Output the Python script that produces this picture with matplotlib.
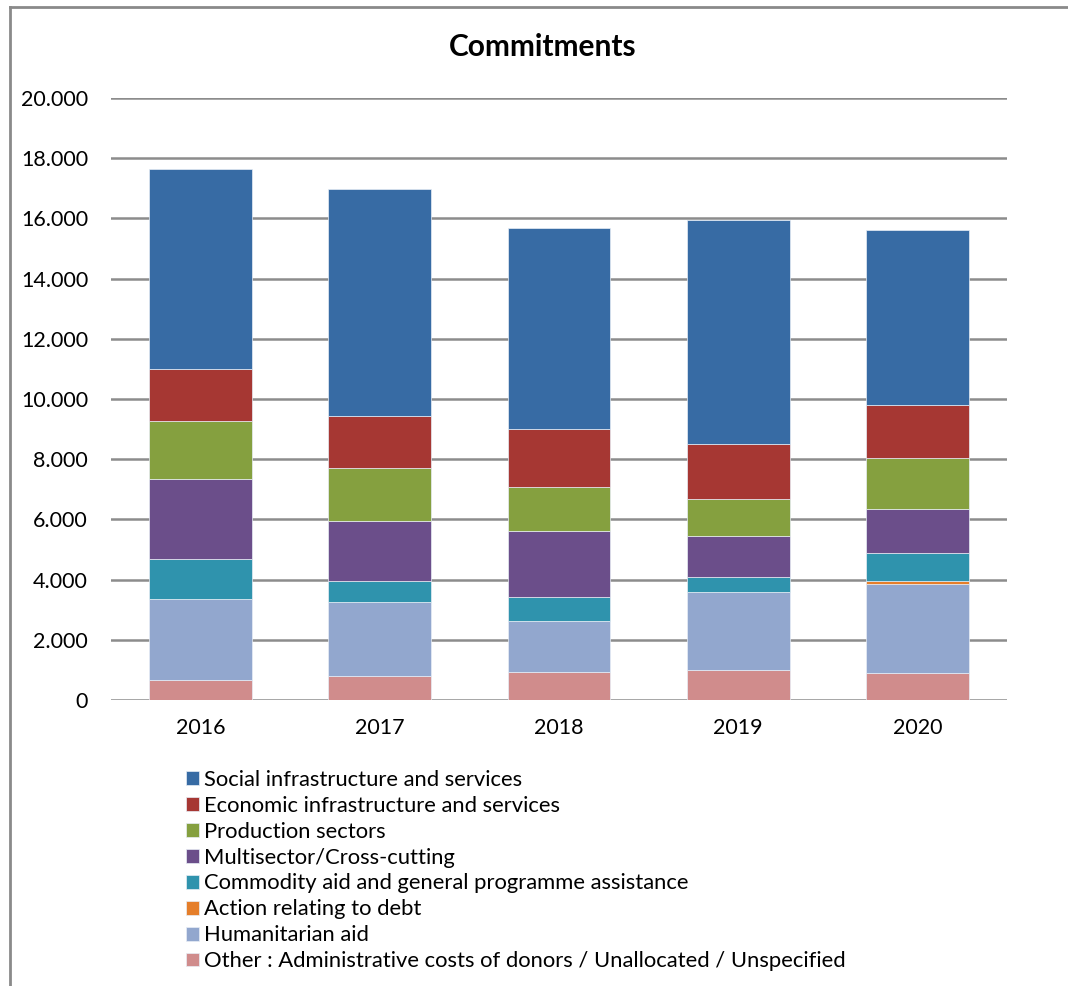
"""Stacked commitments by sector, 2016-2020."""

import matplotlib.pyplot as plt
from matplotlib.lines import Line2D
from matplotlib.ticker import FuncFormatter
import numpy as np

plt.rcParams["font.family"] = ["Lato", "DejaVu Sans"]

years = ["2016", "2017", "2018", "2019", "2020"]

# bottom to top in stacking order
other = [675, 800, 930, 980, 890]
humanitarian = [2695, 2440, 1690, 2610, 2970]
debt = [0, 0, 0, 0, 90]
commodity = [1320, 710, 790, 490, 930]
multisector = [2660, 1990, 2220, 1370, 1460]
production = [1910, 1770, 1460, 1240, 1690]
economic = [1720, 1740, 1910, 1830, 1770]
social = [6650, 7520, 6680, 7440, 5800]

series = [
    ("Other : Administrative costs of donors / Unallocated / Unspecified", other, "#D08C8C"),
    ("Humanitarian aid", humanitarian, "#92A7CE"),
    ("Action relating to debt", debt, "#E57E2A"),
    ("Commodity aid and general programme assistance", commodity, "#2F93AD"),
    ("Multisector/Cross-cutting", multisector, "#6B4E8A"),
    ("Production sectors", production, "#85A03F"),
    ("Economic infrastructure and services", economic, "#A63733"),
    ("Social infrastructure and services", social, "#376BA4"),
]

fig = plt.figure(figsize=(10.68, 9.86), dpi=100)
ax = fig.add_axes([0.1039, 0.2901, 0.839, 0.6105])

# outer chart frame (only left and top edges are in view)
fx, fy = 9.5 / 1068, 1 - 7 / 986
fig.add_artist(Line2D([fx, fx], [0, fy], transform=fig.transFigure,
                      color="#8a8a8a", linewidth=2))
fig.add_artist(Line2D([fx, 1], [fy, fy], transform=fig.transFigure,
                      color="#8a8a8a", linewidth=2))

x = np.arange(len(years))
bottom = np.zeros(len(years))
handles = []
for label, vals, color in series:
    vals = np.array(vals, dtype=float)
    bars = ax.bar(x, vals, width=0.573, bottom=bottom, color=color,
                  edgecolor="#e8eef6", linewidth=0.5, label=label, zorder=3)
    handles.append(bars)
    bottom += vals

ax.set_xlim(-0.5, 4.5)
ax.set_ylim(0, 20000)
ax.set_yticks(np.arange(0, 20001, 2000))
ax.yaxis.set_major_formatter(FuncFormatter(lambda v, p: f"{int(v):,}".replace(",", ".")))
ax.set_xticks(x)
ax.set_xticklabels(years)
ax.tick_params(axis="both", length=0, labelsize=15.5)
ax.tick_params(axis="y", pad=16.5)
ax.tick_params(axis="x", pad=13)
ax.grid(axis="y", color="#8c8c8c", linewidth=1.8, zorder=0)
for side in ax.spines.values():
    side.set_visible(False)

fig.text(543 / 1068, 1 - 47 / 986, "Commitments", ha="center", va="center",
         fontsize=21.5, fontweight="bold")

leg = fig.legend(handles[::-1], [s[0] for s in series][::-1],
                 loc="upper left", bbox_to_anchor=(177 / 1068, 1 - 761 / 986),
                 frameon=False, fontsize=15.8, handlelength=0.6, handleheight=0.6,
                 handletextpad=0.25, labelspacing=0.27, borderaxespad=0)

fig.savefig("out.png", dpi=100)
plt.close(fig)
